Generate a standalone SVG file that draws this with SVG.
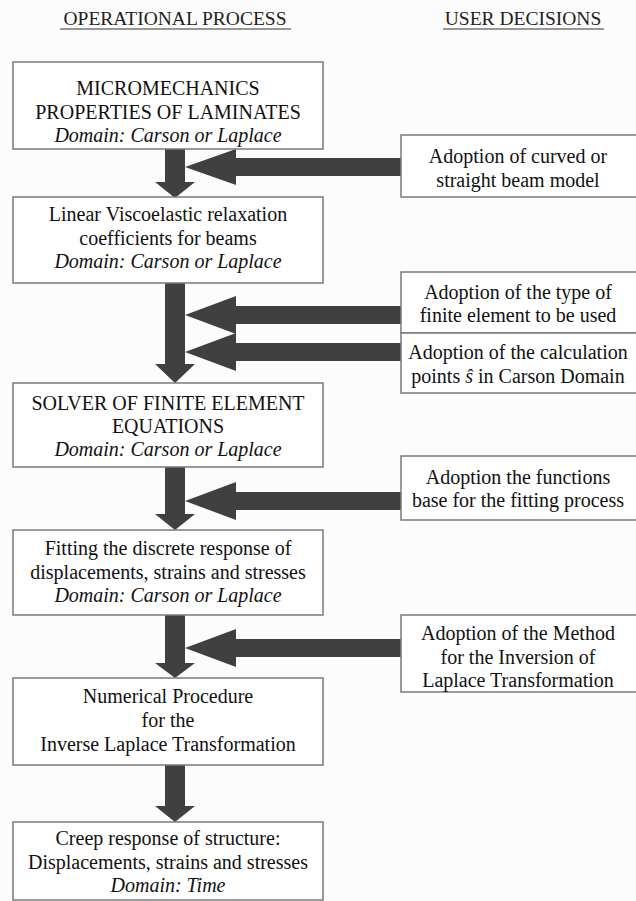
<svg xmlns="http://www.w3.org/2000/svg" width="636" height="901" viewBox="0 0 636 901">
<style>
.bg{fill:#fcfcfc}
.box{fill:#ffffff;stroke:#7a7a7a;stroke-width:1.5}
.t{font-size:20px;fill:#111;text-anchor:middle}
.i{font-style:italic}
.h{font-size:19.5px;fill:#222;text-anchor:middle}
.ar{fill:#404040}
.ul{stroke:#333;stroke-width:1.2}
</style>
<rect class="bg" x="0" y="0" width="636" height="901"/>
<g font-family="Liberation Serif, Times New Roman, Times, Noto Serif, FreeSerif, DejaVu Serif, serif">
<g id="headers">
<text class="h" x="175" y="25">OPERATIONAL PROCESS</text>
<line class="ul" x1="60" y1="29" x2="291" y2="29"/>
<text class="h" x="523" y="25">USER DECISIONS</text>
<line class="ul" x1="443" y1="29" x2="604" y2="29"/>
</g>
<g id="connectors">
<polygon class="ar" points="165,149 185,149 185,182 195,182 175,198 155,182 165,182"/>
<polygon class="ar" points="165,283 185,283 185,364 195,364 175,383 155,364 165,364"/>
<polygon class="ar" points="165,467 185,467 185,514 195,514 175,530 155,514 165,514"/>
<polygon class="ar" points="165,615 185,615 185,663 195,663 175,678 155,663 165,663"/>
<polygon class="ar" points="165,765 185,765 185,806 195,806 175,822 155,806 165,806"/>
<polygon class="ar" points="401,158 236,158 236,149 185,167 236,185 236,176 401,176"/>
<polygon class="ar" points="401,306 236,306 236,296 185,315 236,334 236,324 401,324"/>
<polygon class="ar" points="401,343 236,343 236,333 185,352 236,371 236,361 401,361"/>
<polygon class="ar" points="401,492 236,492 236,482 185,501 236,520 236,510 401,510"/>
<polygon class="ar" points="401,639 236,639 236,629 185,648 236,667 236,657 401,657"/>
</g>
<g id="b1">
<rect class="box" x="13" y="62" width="310" height="87"/>
<text class="t" x="168" y="95">MICROMECHANICS</text>
<text class="t" x="168" y="119">PROPERTIES OF LAMINATES</text>
<text class="t i" x="168" y="142">Domain: Carson or Laplace</text>
</g>
<g id="b2">
<rect class="box" x="13" y="197" width="310" height="86"/>
<text class="t" x="168" y="221">Linear Viscoelastic relaxation</text>
<text class="t" x="168" y="245">coefficients for beams</text>
<text class="t i" x="168" y="268">Domain: Carson or Laplace</text>
</g>
<g id="b3">
<rect class="box" x="13" y="383" width="310" height="84"/>
<text class="t" x="168" y="410">SOLVER OF FINITE ELEMENT</text>
<text class="t" x="168" y="433">EQUATIONS</text>
<text class="t i" x="168" y="456">Domain: Carson or Laplace</text>
</g>
<g id="b4">
<rect class="box" x="13" y="530" width="310" height="85"/>
<text class="t" x="168" y="555">Fitting the discrete response of</text>
<text class="t" x="168" y="579">displacements, strains and stresses</text>
<text class="t i" x="168" y="602">Domain: Carson or Laplace</text>
</g>
<g id="b5">
<rect class="box" x="13" y="678" width="310" height="87"/>
<text class="t" x="168" y="703">Numerical Procedure</text>
<text class="t" x="168" y="727">for the</text>
<text class="t" x="168" y="751">Inverse Laplace Transformation</text>
</g>
<g id="b6">
<rect class="box" x="13" y="822" width="310" height="78"/>
<text class="t" x="168" y="845">Creep response of structure:</text>
<text class="t" x="168" y="869">Displacements, strains and stresses</text>
<text class="t i" x="168" y="892">Domain: Time</text>
</g>
<g id="r1">
<rect class="box" x="401" y="135" width="240" height="62"/>
<text class="t" x="518" y="163">Adoption of curved or</text>
<text class="t" x="518" y="187">straight beam model</text>
</g>
<g id="r2">
<rect class="box" x="401" y="272" width="240" height="61"/>
<text class="t" x="518" y="299">Adoption of the type of</text>
<text class="t" x="518" y="322">finite element to be used</text>
</g>
<g id="r3">
<rect class="box" x="401" y="333" width="240" height="60"/>
<text class="t" x="518" y="359">Adoption of the calculation</text>
<text class="t" x="518" y="383">points <tspan class="i">ŝ</tspan>  in Carson Domain</text>
</g>
<g id="r4">
<rect class="box" x="401" y="456" width="240" height="64"/>
<text class="t" x="518" y="484">Adoption the functions</text>
<text class="t" x="518" y="507">base for the fitting process</text>
</g>
<g id="r5">
<rect class="box" x="401" y="615" width="240" height="77"/>
<text class="t" x="518" y="640">Adoption of the Method</text>
<text class="t" x="518" y="664">for the Inversion of</text>
<text class="t" x="518" y="687">Laplace Transformation</text>
</g>
</g>
</svg>
